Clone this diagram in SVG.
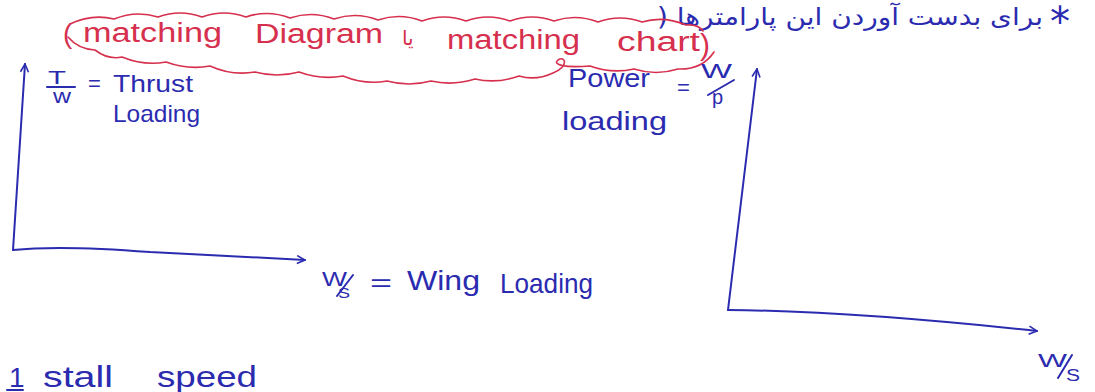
<svg xmlns="http://www.w3.org/2000/svg" width="1095" height="392" viewBox="0 0 1095 392">
<style>
.ink{fill:#2b2bb0;font-family:"Liberation Sans","DejaVu Sans",sans-serif;}
.red{fill:#d6304e;font-family:"Liberation Sans","DejaVu Sans",sans-serif;}
.fa{fill:#2b2bb0;font-family:"DejaVu Sans",sans-serif;}
.axis{fill:none;stroke:#2b2bb0;stroke-width:2;stroke-linecap:round;stroke-linejoin:round;}
.cloud{fill:none;stroke:#d6304e;stroke-width:1.6;stroke-linecap:round;stroke-linejoin:round;}
.stroke{stroke:#2b2bb0;stroke-width:2;stroke-linecap:round;}
</style>
<defs>
<marker id="arr" viewBox="0 0 10 10" refX="9" refY="5" markerWidth="10" markerHeight="10" markerUnits="userSpaceOnUse" orient="auto">
<path d="M1,1 L9,5 L1,9" fill="none" stroke="#2b2bb0" stroke-width="1.6"/>
</marker>
</defs>
<rect width="1095" height="392" fill="#fff"/>

<g id="header">
<text class="fa" x="1043" y="25" font-size="24" direction="rtl" text-anchor="start" textLength="386" lengthAdjust="spacingAndGlyphs">برای بدست آوردن این پارامترها (</text>
<text class="fa" x="1050" y="36" font-size="40">*</text>
</g>

<g id="title-cloud">
<path class="cloud" d="M70,24 Q92,13.5 114,19 Q136,10 158,17 Q180,9 202,17 Q224,9 246,17 Q268,9.5 290,18 Q312,10.5 334,19 Q356,11.5 378,20 Q400,12.5 422,21 Q444,13 466,21 Q488,13 510,21 Q532,13 554,21 Q576,13.5 598,22 Q620,14 642,22 Q664,15.5 686,25 Q698,24 703,31"/>
<path class="cloud" d="M68,37 Q78,49 95,50 Q108,60 122,57 Q144,66 166,62 Q188,70 210,66 Q232,76 255,72 Q277,78 299,72 Q321,80 343,76 Q365,85 387,81 Q409,87 431,81 Q453,86 475,79 Q497,84 519,76 Q536,81 553,73 C570,66 565,55 558,60 C552,65 565,68 590,66 Q612,74 634,69 Q656,76 678,69 Q702,70 714,52"/>
<text class="red" x="63" y="43" font-size="28">(</text>
<text class="red" x="83" y="42" font-size="27" textLength="139" lengthAdjust="spacingAndGlyphs">matching</text>
<text class="red" x="255" y="43" font-size="27" textLength="128" lengthAdjust="spacingAndGlyphs">Diagram</text>
<text class="red" x="402" y="45" font-size="20" style="font-family:'DejaVu Sans',sans-serif">یا</text>
<text class="red" x="447" y="49" font-size="27" textLength="133" lengthAdjust="spacingAndGlyphs">matching</text>
<text class="red" x="617" y="51" font-size="27" textLength="83" lengthAdjust="spacingAndGlyphs">chart</text>
<text class="red" x="700" y="55" font-size="30">)</text>
</g>

<g id="connectors">
<path class="axis" d="M13,250 L25,64" marker-end="url(#arr)"/>
<path class="axis" d="M13,250 Q60,245 150,252 L305,260" marker-end="url(#arr)"/>
<path class="axis" d="M728,310 L757,69" marker-end="url(#arr)"/>
<path class="axis" d="M728,310 Q850,311 1037,331" marker-end="url(#arr)"/>
</g>

<g id="thrust-label">
<text class="ink" x="48" y="84" font-size="18" textLength="18" lengthAdjust="spacingAndGlyphs">T</text>
<line class="stroke" x1="47" y1="87" x2="75" y2="87"/>
<text class="ink" x="53" y="103" font-size="20" textLength="18" lengthAdjust="spacingAndGlyphs">w</text>
<text class="ink" x="88" y="91" font-size="22">=</text>
<text class="ink" x="113" y="92" font-size="24" textLength="80" lengthAdjust="spacingAndGlyphs">Thrust</text>
<text class="ink" x="113" y="122" font-size="24" textLength="87" lengthAdjust="spacingAndGlyphs">Loading</text>
</g>

<g id="power-label">
<text class="ink" x="568" y="87" font-size="26" textLength="82" lengthAdjust="spacingAndGlyphs">Power</text>
<text class="ink" x="677" y="95" font-size="22">=</text>
<text class="ink" x="701" y="78" font-size="20" textLength="31" lengthAdjust="spacingAndGlyphs">W</text>
<line class="stroke" x1="734" y1="80" x2="708" y2="95"/>
<text class="ink" x="712" y="104" font-size="20">p</text>
<text class="ink" x="562" y="130" font-size="26" textLength="105" lengthAdjust="spacingAndGlyphs">loading</text>
</g>

<g id="wing-loading-label">
<text class="ink" x="322" y="286" font-size="20" textLength="25" lengthAdjust="spacingAndGlyphs">W</text>
<line class="stroke" x1="353" y1="275" x2="337" y2="296"/>
<text class="ink" x="338" y="298" font-size="14" textLength="12" lengthAdjust="spacingAndGlyphs">S</text>
<text class="ink" x="370" y="291" font-size="24" textLength="22" lengthAdjust="spacingAndGlyphs">=</text>
<text class="ink" x="407" y="290" font-size="28" textLength="73" lengthAdjust="spacingAndGlyphs">Wing</text>
<text class="ink" x="500" y="293" font-size="28" textLength="93" lengthAdjust="spacingAndGlyphs">Loading</text>
</g>

<g id="ws-label">
<text class="ink" x="1038" y="367" font-size="18" textLength="29" lengthAdjust="spacingAndGlyphs">W</text>
<line class="stroke" x1="1072" y1="355" x2="1058" y2="378"/>
<text class="ink" x="1066" y="381" font-size="16" textLength="14" lengthAdjust="spacingAndGlyphs">S</text>
</g>

<g id="item-1">
<text class="ink" x="9" y="387" font-size="28">1</text>
<line class="stroke" x1="7" y1="390" x2="23" y2="390"/>
<text class="ink" x="43" y="387" font-size="30" textLength="70" lengthAdjust="spacingAndGlyphs">stall</text>
<text class="ink" x="157" y="387" font-size="30" textLength="100" lengthAdjust="spacingAndGlyphs">speed</text>
</g>
</svg>
